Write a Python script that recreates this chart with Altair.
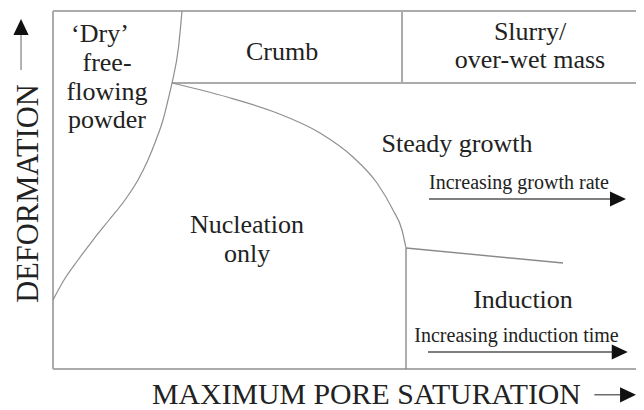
import altair as alt
import pandas as pd

# ---- data (diagram coordinates: saturation 0-100, deformation 0-100) ----
# left boundary ("Dry" powder / nucleation)
dry_x = [21.83, 21.24, 20.14, 19.46, 18.61, 17.43, 16.07, 14.38, 12.18, 9.48, 6.77, 4.23, 1.86, 0.0]
dry_y = [100.0, 89.94, 79.89, 75.14, 69.55, 63.97, 58.38, 52.79, 47.21, 41.62, 36.03, 30.45, 24.86, 19.27]
# nucleation / steady growth boundary
nuc_x = [20.14, 29.44, 37.90, 45.18, 50.76, 54.82, 57.53, 59.05, 59.73]
nuc_y = [79.89, 75.98, 71.51, 65.92, 59.22, 51.96, 44.41, 38.83, 33.80]

# straight boundaries (x, y, x2, y2)
frame_x = [0, 0, 0, 20.14, 59.05]
frame_y = [100, 0, 0, 79.89, 79.89]
frame_x2 = [101, 0, 101, 101, 59.05]
frame_y2 = [100, 100, 0, 79.89, 100]
inner_x = [59.73, 59.73]
inner_y = [0, 33.80]
inner_x2 = [59.73, 86.29]
inner_y2 = [33.80, 29.61]

# arrows: shaft start/end and head position
arr_x = [63.62, 63.45, 91.6]
arr_y = [47.49, 4.75, -7.2]
arr_x2 = [94.6, 94.9, 96.2]
arr_head_x = [95.6, 95.9, 97.3]
up_arrow_x = [-5.41]
up_arrow_y = [83.5]
up_arrow_y2 = [94.0]
up_head_y = [95.5]

# region labels
lab_text = ["\u2018Dry\u2019", "free-", "flowing", "powder", "Crumb", "Slurry/", "over-wet mass",
            "Steady growth", "Nucleation", "only", "Induction"]
lab_x = [7.95, 9.14, 9.14, 9.14, 38.75, 80.71, 80.71, 68.36, 32.83, 32.83, 79.53]
lab_y = [91.34, 83.24, 75.14, 67.32, 86.31, 91.90, 84.08, 60.61, 37.99, 29.89, 17.04]
small_text = ["Increasing growth rate", "Increasing induction time"]
small_x = [78.85, 78.43]
small_y = [50.28, 7.54]

FONT = "Liberation Serif"
TXT = "#222222"

xs = alt.Scale(domain=[0, 98.646], nice=False, zero=False)
ys = alt.Scale(domain=[0, 100], nice=False, zero=False)
xax = alt.Axis(title="MAXIMUM PORE SATURATION", domain=False, ticks=False, labels=False, grid=False,
               titleFont=FONT, titleFontSize=29.8, titleFontWeight="normal", titleColor=TXT,
               titleX=313, titleY=34, titleAlign="center", titleBaseline="alphabetic")
yax = alt.Axis(title="DEFORMATION", domain=False, ticks=False, labels=False, grid=False,
               titleFont=FONT, titleFontSize=30.5, titleFontWeight="normal", titleColor=TXT,
               titleAngle=270, titleX=-16, titleY=182, titleAlign="center", titleBaseline="alphabetic")

frame = pd.DataFrame({"x": frame_x, "y": frame_y, "x2": frame_x2, "y2": frame_y2})
inner = pd.DataFrame({"x": inner_x, "y": inner_y, "x2": inner_x2, "y2": inner_y2})
dry = pd.DataFrame({"x": dry_x, "y": dry_y})
nuc = pd.DataFrame({"x": nuc_x, "y": nuc_y})
arr = pd.DataFrame({"x": arr_x, "y": arr_y, "x2": arr_x2, "hx": arr_head_x})
up = pd.DataFrame({"x": up_arrow_x, "y": up_arrow_y, "y2": up_arrow_y2, "hy": up_head_y})
labs = pd.DataFrame({"t": lab_text, "x": lab_x, "y": lab_y})
smalls = pd.DataFrame({"t": small_text, "x": small_x, "y": small_y})

frame_l = alt.Chart(frame).mark_rule(color="#ababab", strokeWidth=2, clip=False).encode(
    x=alt.X("x:Q", scale=xs, axis=xax), y=alt.Y("y:Q", scale=ys, axis=yax), x2="x2", y2="y2")
inner_l = alt.Chart(inner).mark_rule(color="#8a8a8a", strokeWidth=1.4).encode(
    x=alt.X("x:Q", scale=xs), y=alt.Y("y:Q", scale=ys), x2="x2", y2="y2")
dry_l = alt.Chart(dry).mark_line(color="#8f8f8f", strokeWidth=1.2, interpolate="monotone").encode(
    x=alt.X("x:Q", scale=xs), y=alt.Y("y:Q", scale=ys), order="x:Q")
nuc_l = alt.Chart(nuc).mark_line(color="#8f8f8f", strokeWidth=1.2, interpolate="monotone").encode(
    x=alt.X("x:Q", scale=xs), y=alt.Y("y:Q", scale=ys), order="x:Q")

shafts = alt.Chart(arr).mark_rule(color="#555555", strokeWidth=1.3, clip=False).encode(
    x=alt.X("x:Q", scale=xs), y=alt.Y("y:Q", scale=ys), x2="x2")
heads = alt.Chart(arr).mark_point(shape="M1,0L-1,-0.95L-1,0.95Z", size=256, filled=True,
                                  fill="#111111", opacity=1, strokeWidth=0, clip=False).encode(
    x=alt.X("hx:Q", scale=xs), y=alt.Y("y:Q", scale=ys))
up_shaft = alt.Chart(up).mark_rule(color="#888888", strokeWidth=1.3, clip=False).encode(
    x=alt.X("x:Q", scale=xs), y=alt.Y("y:Q", scale=ys), y2="y2")
up_head = alt.Chart(up).mark_point(shape="M0,-1L0.95,1L-0.95,1Z", size=256, filled=True,
                                   fill="#111111", opacity=1, strokeWidth=0, clip=False).encode(
    x=alt.X("x:Q", scale=xs), y=alt.Y("hy:Q", scale=ys))

labels = alt.Chart(labs).mark_text(font=FONT, fontSize=26, color=TXT, align="center",
                                   baseline="alphabetic").encode(
    x=alt.X("x:Q", scale=xs), y=alt.Y("y:Q", scale=ys), text="t:N")
small = alt.Chart(smalls).mark_text(font=FONT, fontSize=20, color=TXT, align="center",
                                    baseline="alphabetic").encode(
    x=alt.X("x:Q", scale=xs), y=alt.Y("y:Q", scale=ys), text="t:N")

chart = alt.layer(frame_l, inner_l, dry_l, nuc_l, shafts, heads, up_shaft, up_head, labels, small).properties(
    width=583, height=358,
    autosize=alt.AutoSizeParams(type="none"),
    padding={"left": 45, "top": 3, "right": 0, "bottom": 41},
    background="white",
).configure_view(strokeWidth=0)

chart.save("out.html", embed_options={"renderer": "svg", "actions": False})
